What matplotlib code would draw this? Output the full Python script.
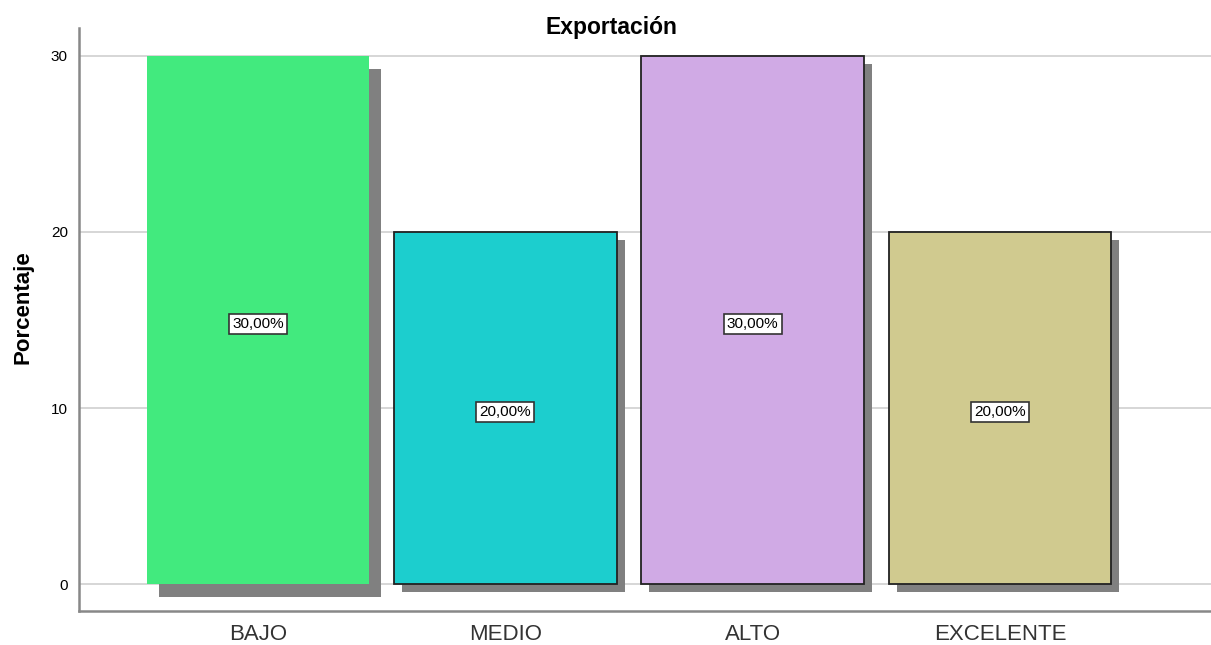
import numpy as np
import matplotlib as mpl
import matplotlib.pyplot as plt
import matplotlib.transforms as mtransforms

# data
categorias = ['BAJO', 'MEDIO', 'ALTO', 'EXCELENTE']
porcentajes = [30.0, 20.0, 30.0, 20.0]
etiquetas = ['30,00%', '20,00%', '30,00%', '20,00%']
colores = ['#42EA7E', '#1CCECE', '#D0AAE5', '#D0CA8F']
bordes = ['none', '#222222', '#222222', '#222222']
sombras = [(12, -13), (8, -8), (8, -8), (8, -8)]  # pixels

mpl.rcParams['font.family'] = ['Liberation Sans', 'DejaVu Sans']

fig = plt.figure(figsize=(12.11, 6.45), dpi=100)
ax = fig.add_axes([0.0652, 0.0527, 0.9348, 0.904])

x = np.arange(len(categorias))
ancho = 0.9

for xi, v, c, b, (dx, dy), et in zip(x, porcentajes, colores, bordes, sombras, etiquetas):
	tr = mtransforms.offset_copy(ax.transData, fig=fig, x=dx, y=dy, units='dots')
	ax.bar(xi, v, width=ancho, color='#808080', transform=tr, zorder=2)
	ax.bar(xi, v, width=ancho, color=c, edgecolor=b, linewidth=1.3, zorder=3)
	tt = mtransforms.offset_copy(ax.transData, fig=fig, x=0, y=-4, units='dots')
	ax.text(xi, v/2, et, ha='center', va='center', fontsize=11, transform=tt,
		bbox=dict(boxstyle='square,pad=0.2', fc='white', ec='#333333', lw=1.2), zorder=4)

ax.set_xlim(-0.724, 3.853)
ax.set_ylim(-1.53, 31.59)
ax.set_yticks([0, 10, 20, 30])
ax.set_xticks(x)
ax.set_xticklabels(categorias, fontsize=16, color='#333333')
ax.tick_params(axis='x', length=0, pad=9)
ax.tick_params(axis='y', length=0, pad=8, labelsize=11)
ax.yaxis.grid(True, color='#D0D0D0', linewidth=1.2, zorder=0)
ax.set_axisbelow(True)

for s in ['top', 'right']:
	ax.spines[s].set_visible(False)
for s in ['left', 'bottom']:
	ax.spines[s].set_color('#888888')
	ax.spines[s].set_linewidth(1.8)

ax.set_ylabel('Porcentaje', fontsize=16, fontweight='bold')
ax.yaxis.set_label_coords(-0.04, 0.521)
fig.text(0.505, 0.957, 'Exportación', ha='center', va='center', fontsize=16.5, fontweight='bold')

plt.savefig('out.png', dpi=100)
